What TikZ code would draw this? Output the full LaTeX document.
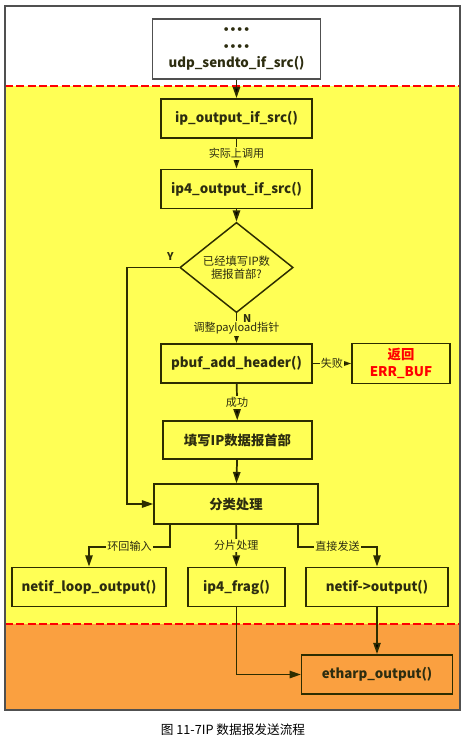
\documentclass[tikz,border=0pt]{standalone}
\usepackage{fontspec}
\setmainfont{Noto Sans CJK SC}
\newfontfamily\dotfont{DejaVu Sans}
\usetikzlibrary{
        arrows,
        arrows.meta,
        positioning,
        shapes.geometric
    }
\definecolor{areaY}{RGB}{255,255,85}
\definecolor{areaO}{RGB}{250,160,64}
\definecolor{lineC}{RGB}{45,45,0}
\definecolor{textC}{RGB}{45,45,16}
\definecolor{frameC}{RGB}{80,80,80}
\tikzset{>={Triangle[length=8.5pt,width=5.5pt]},x=0.75pt,y=-0.75pt}
\tikzset{
    box/.style={draw=lineC,line width=1.1pt,text=textC,minimum width=113pt,minimum height=29.5pt,
        font=\fontsize{10}{12}\selectfont\bfseries},
    lbl/.style={fill=areaY,text=textC,inner sep=1pt,font=\fontsize{8.3}{9}\selectfont},
    sep/.style={red,line width=1.8pt,dash pattern=on 6pt off 2.5pt}
}

\begin{document}
\begin{tikzpicture}[line width=1.3pt]
                \useasboundingbox (0,0) rectangle (472,744);
                % areas
                \fill[white] (5,6) rectangle (460,86);
                \fill[areaY] (5,86) rectangle (460,624);
                \fill[areaO] (5,624) rectangle (460,710);
                \draw[sep] (5,86) -- (460,86);
                \draw[sep] (5,624) -- (460,624);
                \draw[frameC,line width=1.1pt] (5,6) rectangle (460,710);
                % nodes
                \node[box,draw=frameC,fill=white,minimum width=126pt,minimum height=45pt,align=center,
                    font=\fontsize{10}{12.8}\selectfont\bfseries] (top) at (236.5,49)
                    {{\dotfont\fontsize{8}{12.8}\selectfont••••}\\{\dotfont\fontsize{8}{12.8}\selectfont••••}\\udp\_sendto\_if\_src()};
                \node[box] (ipout) at (236.5,118.5) {ip\_output\_if\_src()};
                \node[box] (ip4out) at (236.5,189) {ip4\_output\_if\_src()};
                \node[diamond,draw=lineC,line width=1.1pt,text=textC,inner sep=0pt,minimum width=85pt,minimum height=52pt,
                    align=center,font=\fontsize{8.5}{9.5}\selectfont] (dia) at (236.5,267.5) {已经填写IP数\\据报首部?};
                \node[box] (pbuf) at (236.5,363.5) {pbuf\_add\_header()};
                \node[box,text=red,minimum width=73.5pt,align=center,
                    font=\fontsize{10}{13}\selectfont\bfseries] (err) at (401,363.5) {返回\\ERR\_BUF};
                \node[box,minimum width=112pt,minimum height=28.5pt] (fill) at (237.5,440) {填写IP数据报首部};
                \node[box,minimum width=123pt,minimum height=30pt] (cls) at (236,504) {分类处理};
                \node[box,minimum width=115.5pt] (loop) at (89,587) {netif\_loop\_output()};
                \node[box,minimum width=73pt] (frag) at (236.5,587) {ip4\_frag()};
                \node[box,minimum width=106.5pt] (nout) at (377,587) {netif->output()};
                \node[box,fill=areaO,minimum width=113pt] (eth) at (377,674.5) {etharp\_output()};
                \node[font=\fontsize{9.5}{11}\selectfont] (cap) at (233,730) {图 11-7IP 数据报发送流程};
                % connectors
                \path[->,draw=lineC]
                    (top)    edge (ipout)
                    (ipout)  edge node[lbl] (l1) {实际上调用} (ip4out)
                    (ip4out) edge (dia)
                    (dia)    edge node[lbl] (l2) {调整payload指针}
                             node[pos=0.16,right=1pt,text=textC,font=\fontsize{8}{9}\selectfont\bfseries] (ln) {N} (pbuf)
                    (pbuf)   edge node[lbl] (l3) {失败} (err)
                    (pbuf)   edge node[lbl] (l4) {成功} (fill)
                    (fill)   edge (cls)
                    (cls)    edge node[lbl] (l5) {分片处理} (frag)
                    (nout)   edge (eth);
                \draw[->,lineC] (dia.west) -- node[pos=0.17,above=1pt,text=textC,
                    font=\fontsize{8}{9}\selectfont\bfseries] (ly) {Y} ++(-52,0) |- (cls.west);
                \draw[->,lineC] (cls.south) ++(-66,0) -- ++(0,22) -| node[lbl,pos=0.25] (l6) {环回输入} (loop.north);
                \draw[->,lineC] (cls.south) ++(62,0) -- ++(0,22) -| node[lbl,pos=0.25] (l7) {直接发送} (nout.north);
                \draw[->,lineC] (frag.south) |- (eth.west);
\end{tikzpicture}
\end{document}
